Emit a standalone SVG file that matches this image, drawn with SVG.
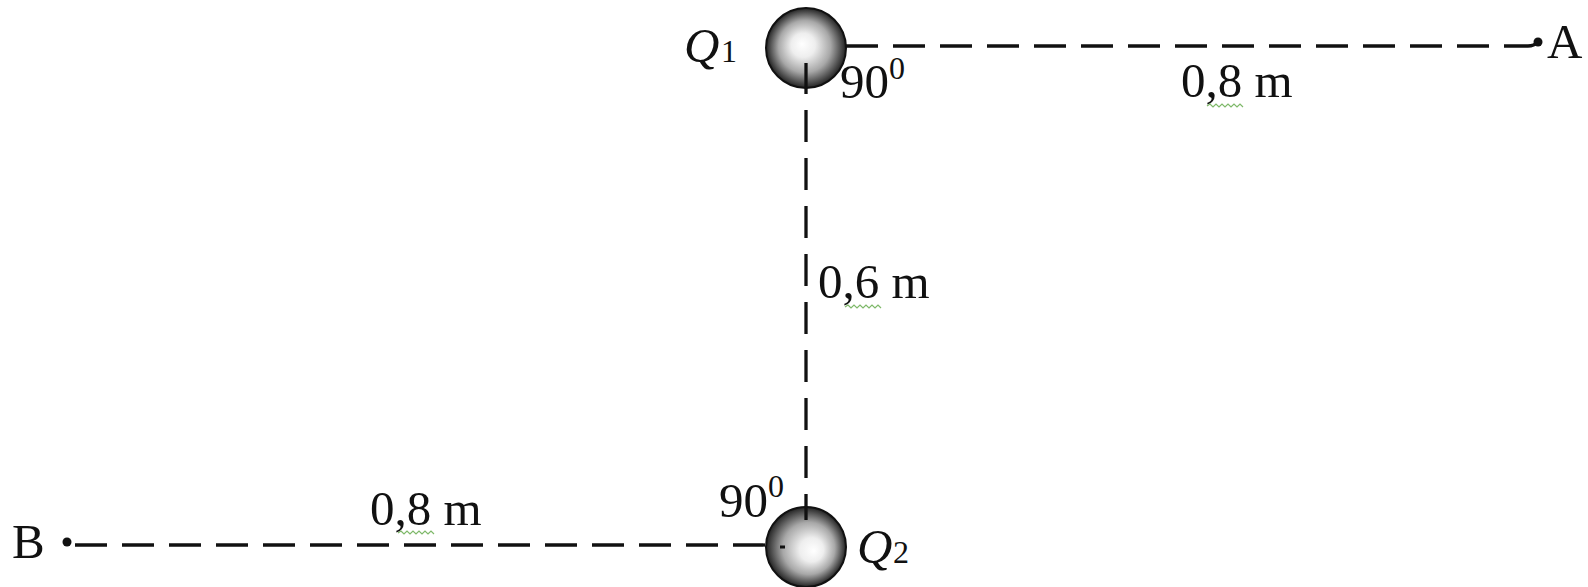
<svg xmlns="http://www.w3.org/2000/svg" width="1588" height="587" viewBox="0 0 1588 587">
<defs>
<radialGradient id="g1" cx="0.5" cy="0.5" r="0.5" fx="0.45" fy="0.45">
<stop offset="0" stop-color="#ffffff"/>
<stop offset="0.3" stop-color="#eeeeee"/>
<stop offset="0.65" stop-color="#a8a8a8"/>
<stop offset="0.88" stop-color="#505050"/>
<stop offset="1" stop-color="#222222"/>
</radialGradient>
<radialGradient id="g2" cx="0.5" cy="0.5" r="0.5" fx="0.6" fy="0.55">
<stop offset="0" stop-color="#ffffff"/>
<stop offset="0.3" stop-color="#eeeeee"/>
<stop offset="0.65" stop-color="#a8a8a8"/>
<stop offset="0.88" stop-color="#505050"/>
<stop offset="1" stop-color="#222222"/>
</radialGradient>
</defs>
<style>
.t{font-family:"Liberation Serif","Times New Roman",serif;font-size:49px;fill:#111}
.i{font-style:italic}
.s{font-size:32px}
.d{fill:none;stroke:#111;stroke-width:3.3}
.sq{fill:none;stroke:#5fa845;stroke-width:1.2;opacity:0.8}
.ball{stroke:#111;stroke-width:2}
</style>
<g id="connectors">
<line class="d" x1="846" y1="46" x2="1504" y2="46" stroke-dasharray="32 15"/>
<path class="d" d="M1504 46 L1528 46 Q1534 46 1538 42"/>
<line class="d" x1="806" y1="62" x2="806" y2="520" stroke-dasharray="32 16"/>
<line class="d" x1="75" y1="545" x2="766" y2="545" stroke-dasharray="32 15"/>
</g>
<g id="Q1">
<circle class="ball" cx="806" cy="48" r="40" fill="url(#g1)"/>
<line x1="806" y1="63" x2="806" y2="88" stroke="#111" stroke-width="3.3"/>
<text class="t" x="684" y="62"><tspan class="i">Q</tspan><tspan class="s" x="721">1</tspan></text>
</g>
<g id="Q2">
<circle class="ball" cx="806" cy="547" r="40" fill="url(#g2)"/>
<line x1="806" y1="507" x2="806" y2="520" stroke="#111" stroke-width="3.3"/>
<rect x="780" y="545.5" width="5" height="3" fill="#111"/>
<text class="t" x="857" y="563"><tspan class="i">Q</tspan><tspan class="s" x="893">2</tspan></text>
</g>
<g id="A">
<circle cx="1538" cy="42" r="4.5" fill="#111"/>
<text class="t" x="1547" y="58">A</text>
</g>
<g id="B">
<circle cx="67" cy="542" r="4.5" fill="#111"/>
<text class="t" x="12" y="558">B</text>
</g>
<g id="labels">
<text class="t" x="840" y="98">90<tspan class="s" dy="-19">0</tspan></text>
<text class="t" x="719" y="517">90<tspan class="s" dy="-20">0</tspan></text>
<text class="t" x="1181" y="97">0,8 m</text>
<text class="t" x="818" y="298">0,6 m</text>
<text class="t" x="370" y="525">0,8 m</text>
<polyline class="sq" points="1207,106 1210,104 1213,107 1216,104 1219,107 1222,104 1225,107 1228,104 1231,107 1234,104 1237,107 1240,104 1243,107"/>
<polyline class="sq" points="845,307 848,305 851,308 854,305 857,308 860,305 863,308 866,305 869,308 872,305 875,308 878,305 881,308"/>
<polyline class="sq" points="398,533 401,531 404,534 407,531 410,534 413,531 416,534 419,531 422,534 425,531 428,534 431,531 434,534"/>
</g>
</svg>
